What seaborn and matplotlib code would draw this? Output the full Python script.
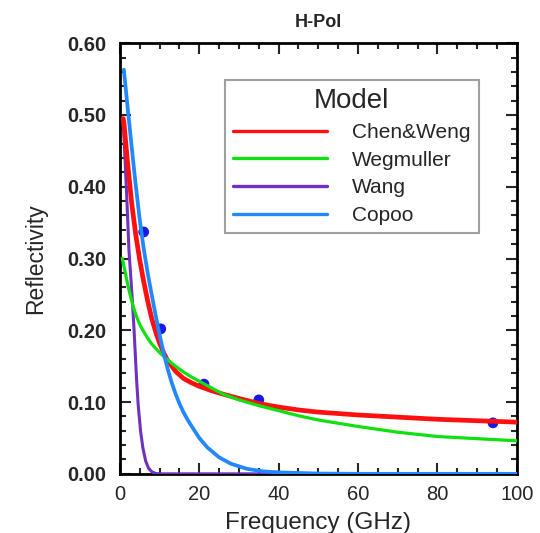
import matplotlib
matplotlib.use("Agg")
import matplotlib.pyplot as plt
import seaborn as sns
import pandas as pd
from matplotlib.ticker import MultipleLocator, FormatStrFormatter

sns.set_style("ticks")
plt.rcParams['font.family'] = ['Liberation Sans', 'DejaVu Sans']

# Chen&Weng
chen_f = [0.85, 1, 2, 3, 4, 5, 6, 7, 8, 9, 10, 11, 12, 14, 16, 18, 20, 23, 26, 30, 35,
          40, 45, 50, 60, 70, 80, 90, 100]
chen_r = [0.495, 0.49, 0.43, 0.376, 0.333, 0.298, 0.268, 0.241, 0.217, 0.198, 0.182,
          0.169, 0.158, 0.143, 0.133, 0.127, 0.122, 0.116, 0.111, 0.105, 0.098,
          0.093, 0.089, 0.086, 0.082, 0.079, 0.076, 0.074, 0.072]
# Wegmuller
weg_f = [0.6, 1, 2, 3, 4, 5, 6, 7, 8, 10, 12, 14, 16, 18, 20, 23, 26, 30, 35, 40, 45,
         50, 60, 70, 80, 90, 100]
weg_r = [0.300, 0.290, 0.263, 0.240, 0.222, 0.208, 0.198, 0.189, 0.181, 0.169, 0.159,
         0.150, 0.142, 0.135, 0.129, 0.120, 0.111, 0.103, 0.095, 0.088, 0.081,
         0.075, 0.066, 0.058, 0.052, 0.049, 0.046]
# Wang
wang_f = [0.85, 1.2, 1.7, 2.3, 2.8, 3.1, 3.5, 3.9, 4.2, 4.6, 5.2, 5.8, 6.5, 7.2, 8, 9,
          10, 20, 50, 100]
wang_r = [0.490, 0.450, 0.390, 0.310, 0.270, 0.245, 0.208, 0.165, 0.132, 0.097, 0.060,
          0.036, 0.018, 0.008, 0.003, 0.0005, 0.0, 0.0, 0.0, 0.0]
# Copoo
cop_f = [1, 2, 3, 4, 5, 6, 7, 8, 9, 10, 11, 12, 13, 14, 15, 16, 17, 18, 20, 22, 25, 28,
         32, 36, 40, 50, 60, 100]
cop_r = [0.563, 0.508, 0.454, 0.402, 0.354, 0.314, 0.280, 0.250, 0.221, 0.194, 0.169,
         0.147, 0.128, 0.112, 0.098, 0.086, 0.076, 0.067, 0.050, 0.037, 0.023, 0.014,
         0.007, 0.0035, 0.002, 0.0004, 0.0, 0.0]
# measurements
obs_f = [6.0, 10.3, 21.2, 35.0, 94.0]
obs_r = [0.337, 0.202, 0.125, 0.103, 0.071]

models = ["Chen&Weng", "Wegmuller", "Wang", "Copoo"]
draw_order = ["Wang", "Chen&Weng", "Wegmuller", "Copoo"]
colors = {"Chen&Weng": "#ff1010", "Wegmuller": "#10e010", "Wang": "#7030c0", "Copoo": "#2288ff"}
widths = {"Chen&Weng": 3.4, "Wegmuller": 2.3, "Wang": 2.2, "Copoo": 2.7}

rows = []
for name, fs, rs in [("Chen&Weng", chen_f, chen_r), ("Wegmuller", weg_f, weg_r),
                     ("Wang", wang_f, wang_r), ("Copoo", cop_f, cop_r)]:
    for f, r in zip(fs, rs):
        rows.append({"Frequency": f, "Reflectivity": r, "Model": name})
df = pd.DataFrame(rows)
obs = pd.DataFrame({"Frequency": obs_f, "Reflectivity": obs_r})

fig = plt.figure(figsize=(5.4, 5.33), dpi=100)
ax = fig.add_axes([0.222, 0.111, 0.735, 0.808])

sns.scatterplot(data=obs, x="Frequency", y="Reflectivity", ax=ax, color="#1818e8",
                s=60, edgecolor="none", zorder=2, legend=False)
for i, m in enumerate(draw_order):
    sub = df[df["Model"] == m]
    sns.lineplot(data=sub, x="Frequency", y="Reflectivity", ax=ax, color=colors[m],
                 lw=widths[m], zorder=3 + i, legend=False)
handles = [plt.Line2D([], [], color=colors[m], lw=2.4, label=m) for m in models]

ax.set_xlim(0, 100)
ax.set_ylim(0, 0.6)
ax.xaxis.set_major_locator(MultipleLocator(20))
ax.xaxis.set_minor_locator(MultipleLocator(5))
ax.yaxis.set_major_locator(MultipleLocator(0.1))
ax.yaxis.set_minor_locator(MultipleLocator(0.02))
ax.yaxis.set_major_formatter(FormatStrFormatter("%.2f"))
ax.tick_params(which="both", direction="in", top=True, right=True, width=1.5)
ax.tick_params(which="major", length=8)
ax.tick_params(which="minor", length=4)
ax.tick_params(axis="y", labelsize=14.5, pad=10)
ax.tick_params(axis="x", labelsize=14.5, pad=8)
for lab in ax.get_yticklabels():
    lab.set_fontweight("bold")
for s in ax.spines.values():
    s.set_linewidth(2)
    s.set_color("black")

ax.set_xlabel("Frequency (GHz)", fontsize=17.5, labelpad=6)
ax.set_ylabel("Reflectivity", fontsize=16.5, labelpad=14)
ax.set_title("H-Pol", fontsize=13, fontweight="bold", pad=12)

leg = ax.legend(handles=handles, title="Model", loc="upper left",
                bbox_to_anchor=(0.264, 0.915), fontsize=15, title_fontsize=20,
                handlelength=4.5, handletextpad=1.2, labelspacing=0.42,
                frameon=True, fancybox=False, edgecolor="#888888",
                borderpad=0.4, borderaxespad=0)
leg.get_frame().set_linewidth(1.5)

fig.savefig("out.png", dpi=100)
